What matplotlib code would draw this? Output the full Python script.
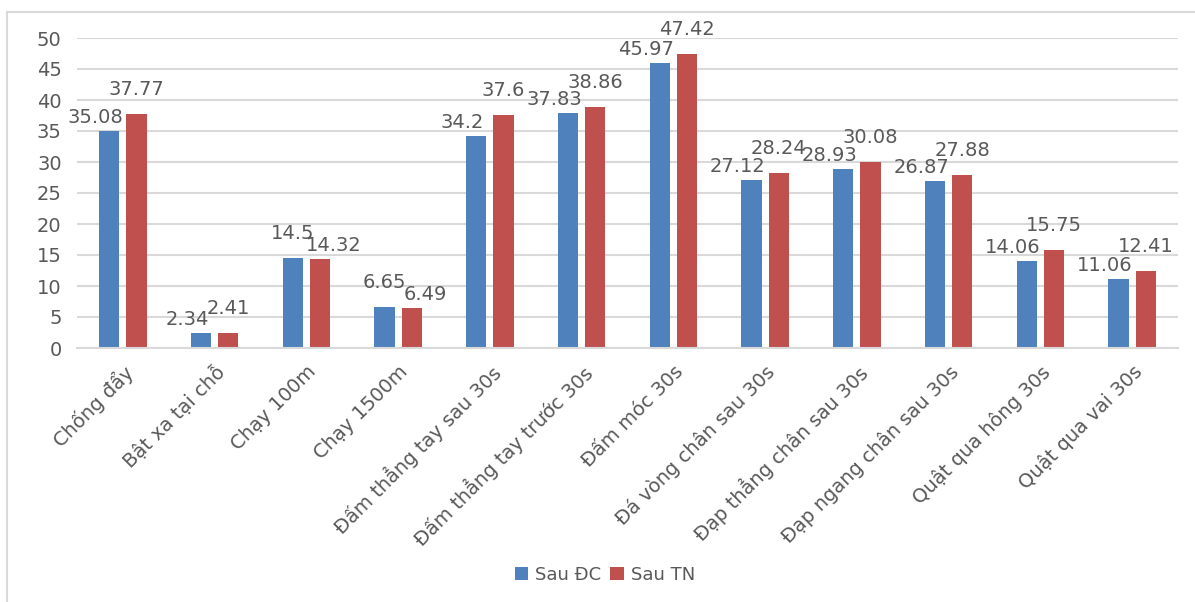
import matplotlib
matplotlib.use("Agg")
import matplotlib.pyplot as plt
import numpy as np
from matplotlib.patches import Rectangle

categories = ["Chống đẩy", "Bật xa tại chỗ", "Chạy 100m", "Chạy 1500m",
              "Đấm thẳng tay sau 30s", "Đấm thẳng tay trước 30s", "Đấm móc 30s",
              "Đá vòng chân sau 30s", "Đạp thẳng chân sau 30s",
              "Đạp ngang chân sau 30s", "Quật qua hông 30s", "Quật qua vai 30s"]
sau_dc = [35.08, 2.34, 14.5, 6.65, 34.2, 37.83, 45.97, 27.12, 28.93, 26.87, 14.06, 11.06]
sau_tn = [37.77, 2.41, 14.32, 6.49, 37.6, 38.86, 47.42, 28.24, 30.08, 27.88, 15.75, 12.41]
series_names = ["Sau ĐC", "Sau TN"]
yticks = [0, 5, 10, 15, 20, 25, 30, 35, 40, 45, 50]

plt.rcParams['font.family'] = ['DejaVu Sans']
txt = '#595959'
blue = '#4F81BD'
red = '#C0504D'

W, H = 1195, 602
fig = plt.figure(figsize=(W/100, H/100), dpi=100)
fig.patches.append(Rectangle((7/W, -0.1), 1.2, (H-12)/H + 0.1, transform=fig.transFigure,
                             fill=False, edgecolor='#D9D9D9', linewidth=1.5))
ax = fig.add_axes([77/W, 1-348/H, (1178-77)/W, (348-38)/H])

x = np.arange(len(categories))
bw = 0.22
gap = 0.075
off = (bw + gap) / 2
b1 = ax.bar(x - off, sau_dc, bw, color=blue, label=series_names[0])
b2 = ax.bar(x + off, sau_tn, bw, color=red, label=series_names[1])

# data labels: the taller bar's label sits centred and higher,
# the shorter bar's label is nudged outward and lower (like Excel's layout)
for i in range(len(categories)):
    pair = [(b1[i], sau_dc[i], -1), (b2[i], sau_tn[i], +1)]
    tall = 0 if sau_dc[i] > sau_tn[i] else 1
    for k, (r, v, side) in enumerate(pair):
        if k == tall:
            dx, dy = 0, 19
        else:
            dx, dy = side * 14, 8
        ax.annotate(f"{v:g}", (r.get_x() + r.get_width()/2, v), xytext=(dx, dy),
                    textcoords='offset pixels', ha='center', va='baseline',
                    fontsize=14, color=txt)

ax.set_xlim(-0.5, len(categories) - 0.5)
ax.set_ylim(0, 50)
ax.set_yticks(yticks)
ax.yaxis.grid(True, color='#D9D9D9', linewidth=1.5)
ax.set_axisbelow(True)
for s in ['top', 'right', 'left']:
    ax.spines[s].set_visible(False)
ax.spines['bottom'].set_color('#D9D9D9')
ax.spines['bottom'].set_linewidth(1.5)
ax.tick_params(axis='both', length=0, colors=txt, labelsize=14)
ax.tick_params(axis='y', pad=11)
ax.set_xticks(x)
ax.set_xticklabels(categories, rotation=45, ha='right', rotation_mode='anchor', fontsize=14)
ax.tick_params(axis='x', pad=10)

fig.legend(handles=[b1, b2], loc='center', bbox_to_anchor=(605/W, 1-575/H), ncol=2,
           frameon=False, fontsize=13, handlelength=0.75, handleheight=0.75,
           handletextpad=0.4, columnspacing=0.5, labelcolor=txt)

fig.savefig("out.png", dpi=100, facecolor='white')
